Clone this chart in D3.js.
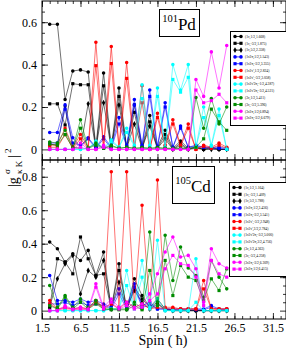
<!DOCTYPE html>
<html>
<head>
<meta charset="utf-8">
<script src="https://cdn.jsdelivr.net/npm/d3@7"></script>
<style>
  html, body { margin: 0; padding: 0; background: #fff; }
  svg { display: block; font-family: 'Liberation Serif', 'Times New Roman', serif; }
</style>
</head>
<body>
<svg id="plot" width="286" height="349"></svg>
<script>
'use strict';

const spins = [2.5, 3.5, 4.5, 5.5, 6.5, 7.5, 8.5, 9.5, 10.5, 11.5, 12.5, 13.5,
    14.5, 15.5, 16.5, 17.5, 18.5, 19.5, 20.5, 21.5, 22.5, 23.5, 24.5, 25.5];
const xMajorTicks = [1.5, 6.5, 11.5, 16.5, 21.5, 26.5, 31.5];
const pdYTicks = [0, 0.2, 0.4, 0.6];
const cdYTicks = [0, 0.2, 0.4, 0.6, 0.8];

/* 101Pd */
const pdLabels = ['(1\u03bd,1/2,1.668)', '(1\u03bd,-3/2,1.875)', '(1\u03bd,5/2,2.358)',
    '(1\u03bd2\u03c0,1/2,3.143)', '(1\u03bd2\u03c0,-3/2,3.355)',
    "(1\u03bd2\u03bd',1/2,2.824)", "(1\u03bd2\u03bd',-3/2,3.058)",
    "(1\u03bd2\u03bd'2\u03c0,-1/2,4.387)", "(1\u03bd2\u03bd'2\u03c0,-3/2,4.521)",
    '(3\u03bd,1/2,5.411)', '(3\u03bd,-3/2,5.396)',
    '(3\u03bd2\u03c0,1/2,6.894)', '(3\u03bd2\u03c0,-3/2,6.679)'];
const pdBlackA = [0.59, 0.59, 0.235, 0.37, 0.375, 0.365, 0.01, 0.36, 0.01, 0.29, 0.01, 0.21, 0.01, 0.16, 0.01, 0.09, 0.005, 0.04, 0.005, 0.01, 0, 0.01, 0, 0];
const pdBlackB = [0.215, 0.215, 0.115, 0.31, 0.305, 0.305, 0.005, 0.30, 0.005, 0.25, 0.005, 0.175, 0.005, 0.13, 0.005, 0.07, 0, 0.03, 0, 0.01, 0, 0.005, 0, 0];
const pdBlackC = [0.025, 0.02, 0.205, 0.01, 0.005, 0.215, 0.005, 0.22, 0.005, 0.21, 0.005, 0.12, 0.005, 0.11, 0.005, 0.05, 0, 0.02, 0, 0.005, 0, 0, 0, 0];
const pdBlueA = [0.08, 0.08, 0.21, 0.055, 0.01, 0.055, 0.01, 0.06, 0.01, 0.15, 0.02, 0.235, 0.02, 0.28, 0.015, 0.22, 0.01, 0.11, 0.01, 0.02, 0.01, 0.01, 0.01, 0.005];
const pdBlueB = [0.03, 0.03, 0.19, 0.03, 0.02, 0.05, 0.005, 0.05, 0.005, 0.12, 0.015, 0.21, 0.015, 0.25, 0.01, 0.2, 0.01, 0.1, 0.01, 0.015, 0.01, 0.005, 0.005, 0];
const pdRedA = [0.02, 0.02, 0.1, 0.01, 0.07, 0.01, 0.505, 0.01, 0.485, 0.01, 0.41, 0.01, 0.3, 0, 0.17, 0.02, 0.14, 0.02, 0.12, 0, 0.02, 0.01, 0.03, 0.01];
const pdRedB = [0.01, 0.01, 0.07, 0.005, 0.05, 0.005, 0.395, 0.005, 0.405, 0.005, 0.335, 0.005, 0.22, 0, 0.15, 0.015, 0.12, 0.015, 0.1, 0, 0.015, 0.005, 0.02, 0.005];
const pdCyanA = [0, 0, 0, 0, 0, 0.005, 0.04, 0.005, 0.045, 0.01, 0.1, 0.02, 0.305, 0.02, 0.29, 0.01, 0.40, 0.28, 0.40, 0.01, 0.2, 0.02, 0.19, 0];
const pdCyanB = [0, 0, 0, 0, 0, 0.005, 0.03, 0.005, 0.035, 0.01, 0.08, 0.015, 0.24, 0.015, 0.25, 0.01, 0.33, 0.27, 0.34, 0.01, 0.15, 0.015, 0.16, 0];
const pdGreenA = [0.035, 0.03, 0.09, 0.005, 0.14, 0.005, 0.03, 0.005, 0.02, 0.005, 0.01, 0.005, 0.01, 0.005, 0.01, 0.005, 0.005, 0.005, 0.005, 0.245, 0.1, 0.24, 0.12, 0.2];
const pdGreenB = [0.025, 0.02, 0.07, 0.005, 0.1, 0.005, 0.02, 0.005, 0.015, 0.005, 0.01, 0.005, 0.005, 0.005, 0.005, 0.005, 0.005, 0.005, 0.005, 0.01, 0.05, 0.19, 0.13, 0.09];
const pdMagentaA = [0, 0, 0, 0, 0.03, 0, 0, 0.02, 0, 0, 0, 0, 0, 0, 0, 0, 0, 0, 0, 0.33, 0.25, 0.46, 0.29, 0.49];
const pdMagentaB = [0, 0, 0, 0, 0.01, 0, 0, 0.01, 0, 0, 0, 0, 0, 0, 0, 0, 0, 0, 0, 0.28, 0.22, 0.23, 0.26, 0.22];

/* 105Cd */
const cdLabels = ['(1\u03bd,1/2,1.164)', '(1\u03bd,-3/2,1.409)', '(1\u03bd,5/2,1.788)',
    '(1\u03bd2\u03c0,1/2,3.436)', '(1\u03bd2\u03c0,-3/2,3.541)',
    "(1\u03bd2\u03bd',-3/2,2.948)", "(1\u03bd2\u03bd',3/2,2.784)",
    "(1\u03bd2\u03bd'2\u03c0,-3/2,5.000)", "(1\u03bd2\u03bd'2\u03c0,3/2,4.756)",
    '(3\u03bd,1/2,4.363)', '(3\u03bd,-3/2,4.258)',
    '(3\u03bd2\u03c0,-3/2,6.309)', '(3\u03bd2\u03c0,1/2,6.415)'];
const cdBlackA = [0.41, 0.37, 0.29, 0.34, 0.30, 0.36, 0.21, 0.35, 0.01, 0.28, 0.01, 0.19, 0.09, 0.02, 0.07, 0.01, 0.005, 0, 0, 0, 0, 0, 0, 0];
const cdBlackB = [0.02, 0.31, 0.29, 0.22, 0.44, 0.31, 0.21, 0.22, 0.01, 0.24, 0.01, 0.14, 0.07, 0.02, 0.05, 0.005, 0, 0, 0, 0, 0, 0, 0, 0];
const cdBlackC = [0.02, 0.19, 0.28, 0.33, 0.10, 0.24, 0.20, 0.30, 0.01, 0.17, 0.01, 0.12, 0.05, 0.01, 0.04, 0.005, 0, 0, 0, 0, 0, 0, 0, 0];
const cdBlueA = [0.21, 0.06, 0.06, 0.05, 0.07, 0.05, 0.06, 0.04, 0.02, 0.13, 0.02, 0.16, 0.03, 0.05, 0.01, 0.01, 0.01, 0.01, 0.01, 0.01, 0.01, 0.03, 0.01, 0.01];
const cdBlueB = [0.04, 0.04, 0.05, 0.03, 0.05, 0.03, 0.04, 0.03, 0.01, 0.1, 0.01, 0.14, 0.02, 0.03, 0.01, 0.01, 0.005, 0.005, 0.005, 0.005, 0.005, 0.02, 0.005, 0.005];
const cdRedA = [0.06, 0.01, 0.02, 0.01, 0.02, 0.01, 0.06, 0.02, 0.83, 0.02, 0.83, 0.03, 0.63, 0.02, 0.78, 0.02, 0.02, 0.01, 0.01, 0.01, 0.18, 0.01, 0.01, 0.01];
const cdRedB = [0.04, 0.01, 0.01, 0.01, 0.01, 0.01, 0.05, 0.01, 0.04, 0.01, 0.05, 0.02, 0.04, 0.01, 0.02, 0.01, 0.01, 0.01, 0.01, 0.01, 0.13, 0.01, 0.01, 0.01];
const cdCyanA = [0, 0, 0, 0, 0, 0, 0, 0, 0.01, 0.01, 0.24, 0.02, 0.30, 0.02, 0.42, 0, 0, 0, 0, 0.31, 0, 0, 0, 0];
const cdCyanB = [0, 0, 0, 0, 0, 0, 0, 0, 0.01, 0.01, 0.15, 0.01, 0.2, 0.01, 0.07, 0, 0, 0, 0, 0.05, 0, 0, 0, 0];
const cdGreenA = [0.15, 0.02, 0.09, 0.02, 0.07, 0.02, 0.06, 0.01, 0.01, 0.01, 0.01, 0.05, 0.01, 0.47, 0.05, 0.45, 0.18, 0.38, 0.255, 0.21, 0.08, 0.3, 0.2, 0.13];
const cdGreenB = [0.03, 0.01, 0.08, 0.01, 0.05, 0.01, 0.04, 0.01, 0.005, 0.005, 0.005, 0.03, 0.005, 0.24, 0.03, 0.3, 0.09, 0.27, 0.2, 0.18, 0.06, 0.19, 0.12, 0.25];
const cdMagentaA = [0, 0, 0.03, 0.01, 0.02, 0.01, 0.16, 0.02, 0.07, 0.02, 0.05, 0.02, 0.04, 0.1, 0.22, 0.35, 0.44, 0.32, 0.33, 0.25, 0.05, 0.37, 0.28, 0.255];
const cdMagentaB = [0, 0, 0.02, 0.005, 0.01, 0.005, 0.14, 0.01, 0.05, 0.01, 0.03, 0.01, 0.02, 0.06, 0.1, 0.25, 0.33, 0.28, 0.27, 0.2, 0.03, 0.3, 0.22, 0.2];

const seriesColors = ['#000000', '#000000', '#000000', '#0000ff', '#0000ff', '#ff0000', '#ff0000',
    '#00ffff', '#00ffff', '#008b00', '#008b00', '#ff00ff', '#ff00ff'];
const seriesShapes = [d3.symbolCircle, d3.symbolSquare, d3.symbolDiamond];

const plotLeft = 42;
const plotRight = 286;

const xScale = d3.scaleLinear().domain([1.5, 33.2]).range([plotLeft, plotRight]);

const panels = [
    {
        id: 'pd', top: 1, bottom: 160, yMax: 0.7, yTicks: pdYTicks,
        values: [pdBlackA, pdBlackB, pdBlackC, pdBlueA, pdBlueB, pdRedA, pdRedB,
            pdCyanA, pdCyanB, pdGreenA, pdGreenB, pdMagentaA, pdMagentaB],
        labels: pdLabels, mass: '101', element: 'Pd',
        box: [159, 9, 40, 27], legend: [230, 31, 56, 94]
    },
    {
        id: 'cd', top: 160, bottom: 319, yMax: 0.9, yTicks: cdYTicks,
        values: [cdBlackA, cdBlackB, cdBlackC, cdBlueA, cdBlueB, cdRedA, cdRedB,
            cdCyanA, cdCyanB, cdGreenA, cdGreenB, cdMagentaA, cdMagentaB],
        labels: cdLabels, mass: '105', element: 'Cd',
        box: [172, 166, 42, 37], legend: [229, 182, 57, 94]
    }
];

function shapeFor(index) {
    if (index < 3) return seriesShapes[index];
    return seriesShapes[(index - 3) % 2];
}

function symbolPath(index) {
    const shape = shapeFor(index);
    const size = shape === d3.symbolSquare ? 10 : 10;
    return d3.symbol().type(shape).size(size)();
}

function styleAxis(g) {
    g.select('.domain').remove();
    g.selectAll('.tick line').attr('stroke', '#000').attr('stroke-width', 0.8);
    g.selectAll('.tick text').attr('font-size', 12).attr('fill', '#000')
        .attr('font-family', "'Liberation Serif', 'Times New Roman', serif");
}

function renderAxes(svg, panel, yScale) {
    const minorX = d3.range(1.5, 33.2, 1);
    const minorY = d3.range(0.05, panel.yMax, 0.05);

    // minor ticks on every side
    svg.append('g').attr('transform', `translate(0, ${panel.bottom})`)
        .call(d3.axisBottom(xScale).tickValues(minorX).tickSize(-3).tickFormat(''))
        .call(styleAxis);
    svg.append('g').attr('transform', `translate(0, ${panel.top})`)
        .call(d3.axisTop(xScale).tickValues(minorX).tickSize(-3).tickFormat(''))
        .call(styleAxis);
    svg.append('g').attr('transform', `translate(${plotLeft}, 0)`)
        .call(d3.axisLeft(yScale).tickValues(minorY).tickSize(-3).tickFormat(''))
        .call(styleAxis);
    svg.append('g').attr('transform', `translate(${plotRight}, 0)`)
        .call(d3.axisRight(yScale).tickValues(minorY).tickSize(-3).tickFormat(''))
        .call(styleAxis);

    // major ticks
    const isBottomPanel = panel.id === 'cd';
    svg.append('g').attr('transform', `translate(0, ${panel.bottom})`)
        .call(d3.axisBottom(xScale).tickValues(xMajorTicks).tickSize(-6).tickPadding(4)
            .tickFormat(isBottomPanel ? d3.format('.1f') : ''))
        .call(styleAxis);
    svg.append('g').attr('transform', `translate(0, ${panel.top})`)
        .call(d3.axisTop(xScale).tickValues(xMajorTicks).tickSize(-6).tickFormat(''))
        .call(styleAxis);
    svg.append('g').attr('transform', `translate(${plotLeft}, 0)`)
        .call(d3.axisLeft(yScale).tickValues(panel.yTicks).tickSize(-6).tickPadding(5)
            .tickFormat(d => d === 0 ? '0' : d3.format('.1f')(d)))
        .call(styleAxis);
    svg.append('g').attr('transform', `translate(${plotRight}, 0)`)
        .call(d3.axisRight(yScale).tickValues(panel.yTicks).tickSize(-6).tickFormat(''))
        .call(styleAxis);
}

function renderSeries(svg, panel, yScale) {
    const clipId = `clip-${panel.id}`;
    svg.append('clipPath').attr('id', clipId)
        .append('rect')
        .attr('x', plotLeft).attr('y', panel.top)
        .attr('width', plotRight - plotLeft).attr('height', panel.bottom - panel.top);

    const line = d3.line()
        .x(d => xScale(d[0]))
        .y(d => yScale(d[1]));

    const g = svg.append('g').attr('clip-path', `url(#${clipId})`);

    panel.values.forEach((values, index) => {
        const points = spins.map((spin, i) => [spin, values[i]]);
        const color = seriesColors[index];

        g.append('path')
            .datum(points)
            .attr('fill', 'none')
            .attr('stroke', color)
            .attr('stroke-width', 0.7)
            .attr('stroke-opacity', 0.8)
            .attr('d', line);

        g.selectAll(null)
            .data(points)
            .enter()
            .append('path')
            .attr('d', symbolPath(index))
            .attr('transform', d => `translate(${xScale(d[0])}, ${yScale(d[1])})`)
            .attr('fill', color);
    });
}

function renderLegend(svg, panel) {
    const [lx, ly, lw, lh] = panel.legend;
    const g = svg.append('g');

    g.append('rect')
        .attr('x', lx + 0.5).attr('y', ly + 0.5)
        .attr('width', lw).attr('height', lh)
        .attr('fill', '#fff').attr('stroke', '#000').attr('stroke-width', 1);

    panel.labels.forEach((label, index) => {
        const rowY = ly + 5.5 + index * 6.8;
        const color = seriesColors[index];

        g.append('line')
            .attr('x1', lx + 5).attr('x2', lx + 11)
            .attr('y1', rowY).attr('y2', rowY)
            .attr('stroke', color).attr('stroke-width', 0.8);

        [lx + 5, lx + 11].forEach(px => {
            g.append('path')
                .attr('d', symbolPath(index))
                .attr('transform', `translate(${px}, ${rowY})`)
                .attr('fill', color);
        });

        g.append('text')
            .attr('x', lx + 15).attr('y', rowY + 1.2)
            .attr('font-size', 3.6)
            .text(label);
    });
}

function renderNucleus(svg, panel) {
    const [bx, by, bw, bh] = panel.box;

    svg.append('rect')
        .attr('x', bx + 0.5).attr('y', by + 0.5)
        .attr('width', bw).attr('height', bh)
        .attr('fill', '#fff').attr('stroke', '#000').attr('stroke-width', 1);

    const text = svg.append('text')
        .attr('x', bx + bw / 2)
        .attr('y', by + bh / 2 + 7)
        .attr('text-anchor', 'middle');
    text.append('tspan').attr('font-size', 10.5).attr('dy', -8).text(panel.mass);
    text.append('tspan').attr('font-size', 17).attr('dy', 8).text(panel.element);
}

function renderLabels(svg) {
    svg.append('text')
        .attr('x', 163).attr('y', 345)
        .attr('text-anchor', 'middle')
        .attr('font-size', 14)
        .text('Spin ( \u0127)');

    const g = svg.append('g').attr('transform', 'translate(18, 187) rotate(-90)');
    g.append('text').attr('x', 0).attr('y', 0).attr('font-size', 14).text('|g');
    g.append('text').attr('x', 13).attr('y', -8).attr('font-size', 9).text('\u03c3');
    g.append('text').attr('x', 13).attr('y', 4).attr('font-size', 9).text('\u03ba K');
    g.append('text').attr('x', 29).attr('y', 0).attr('font-size', 14).text('|');
    g.append('text').attr('x', 34).attr('y', -7).attr('font-size', 9).text('2');
}

function renderChart() {
    const svg = d3.select('#plot');

    panels.forEach(panel => {
        const yScale = d3.scaleLinear()
            .domain([-0.05, panel.yMax])
            .range([panel.bottom, panel.top]);

        renderSeries(svg, panel, yScale);
        renderAxes(svg, panel, yScale);

        svg.append('rect')
            .attr('x', plotLeft).attr('y', panel.top)
            .attr('width', plotRight - plotLeft).attr('height', panel.bottom - panel.top)
            .attr('fill', 'none').attr('stroke', '#000').attr('stroke-width', 1);

        renderNucleus(svg, panel);
        renderLegend(svg, panel);
    });

    renderLabels(svg);
}

renderChart();
</script>
</body>
</html>
